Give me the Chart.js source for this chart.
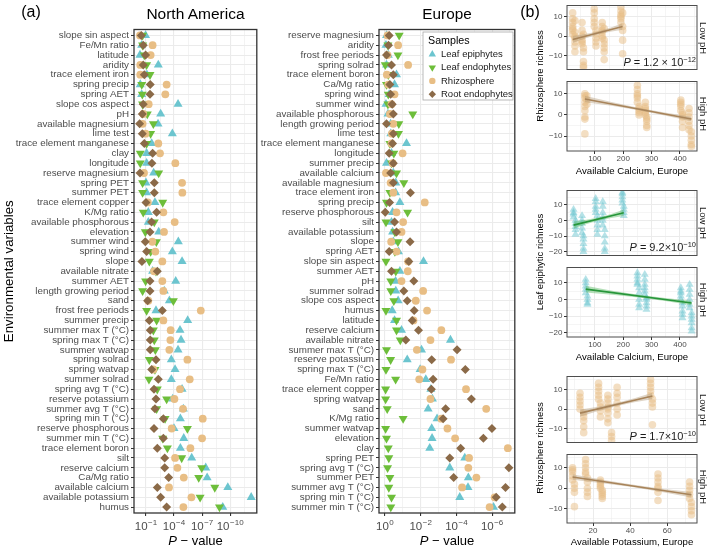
<!DOCTYPE html>
<html><head><meta charset="utf-8">
<script src="https://cdn.jsdelivr.net/npm/chart.js@4.4.1/dist/chart.umd.min.js"></script>
<style>
html,body{margin:0;padding:0;background:#fff;}
#root{position:relative;width:709px;height:548px;overflow:hidden;font-family:"Liberation Sans",Arial,Helvetica,sans-serif;background:#fff;}
canvas{position:absolute;}
.t{position:absolute;white-space:nowrap;line-height:1;color:#000;transform:translate(-50%,-50%);}
.rl{transform:translate(-50%,-50%) rotate(-90deg);}
.rr{transform:translate(-50%,-50%) rotate(90deg);}
.ra{transform:translate(-100%,-50%);}
.sup{font-size:0.68em;position:relative;top:-0.55em;}
</style></head><body><div id="root"></div>
<script>
// ---------- DATA (a): -log10(P) per sample type ----------
const naLabels = ['slope sin aspect','Fe/Mn ratio','latitude','aridity','trace element iron','spring precip','spring AET','slope cos aspect','pH','available magnesium','lime test','trace element manganese','clay','longitude','reserve magnesium','spring PET','summer PET','trace element copper','K/Mg ratio','available phosphorous','elevation','summer wind','spring wind','slope','available nitrate','summer AET','length growing period','sand','frost free periods','summer precip','summer max T (°C)','spring max T (°C)','summer watvap','spring solrad','spring watvap','summer solrad','spring avg T (°C)','reserve potassium','summer avg T (°C)','spring min T (°C)','reserve phosphorous','summer min T (°C)','trace element boron','silt','reserve calcium','Ca/Mg ratio','available calcium','available potassium','humus'];
const naLeafEpiphytes = [0.96,0.54,0.36,2.32,1.1,0.39,0.54,4.43,2.57,2.29,3.82,1.61,1.07,1.07,1.82,1.0,1.07,1.96,1.25,1.25,2.36,4.46,3.82,4.86,1.71,4.18,2.96,3.5,2.07,5.46,4.64,4.75,4.43,3.71,4.11,3.71,4.86,3.86,5.0,4.68,4.0,5.04,4.68,5.89,7.39,7.54,9.75,12.25,9.21];
const naLeafEndophytes = [0.64,0.64,0.82,1.07,1.43,0.55,0.61,0.64,1.14,1.79,1.5,1.07,0.39,0.39,2.36,0.64,0.64,2.79,0.71,1.89,0.93,2.11,1.5,1.36,2.07,0.96,0.64,3.93,1.07,2.14,1.79,1.89,2.0,1.36,1.96,1.32,2.21,3.21,2.14,3.04,5.43,2.79,3.29,4.82,6.96,6.64,8.36,6.79,8.86];
const naRhizosphere = [0.36,1.71,1.5,0.39,0.39,3.21,3.07,1.29,0.71,0.64,0.96,2.32,2.5,4.14,0.79,4.86,4.89,1.2,2.86,4.07,2.93,1.68,2.0,2.75,1.86,2.75,2.86,1.25,6.86,2.86,3.64,3.61,3.5,5.43,1.79,5.68,4.64,4.04,4.96,7.07,3.75,7.0,5.75,4.11,4.36,5.04,3.46,5.86,5.0];
const naRootEndophytes = [0.5,0.71,0.96,0.71,0.82,1.46,1.43,0.71,0.61,0.32,0.61,0.82,1.71,1.64,0.36,1.89,1.89,1.0,2.14,1.6,1.43,0.93,1.07,0.57,2.21,1.43,1.43,1.18,2.75,1.36,1.46,1.46,1.46,2.07,1.61,2.32,1.86,2.07,1.96,2.86,1.86,2.86,2.21,3.0,3.0,3.43,2.21,2.57,3.21];

const euLabels = ['reserve magnesium','aridity','frost free periods','spring solrad','trace element boron','Ca/Mg ratio','spring wind','summer wind','available phosphorous','length growing period','lime test','trace element manganese','longitude','summer precip','available calcium','available magnesium','trace element iron','spring precip','reserve phosphorous','silt','available potassium','slope','spring AET','slope sin aspect','summer AET','pH','summer solrad','slope cos aspect','humus','latitude','reserve calcium','available nitrate','summer max T (°C)','reserve potassium','spring max T (°C)','Fe/Mn ratio','trace element copper','spring watvap','sand','K/Mg ratio','summer watvap','elevation','clay','spring PET','spring avg T (°C)','summer PET','summer avg T (°C)','spring min T (°C)','summer min T (°C)'];
const euLeafEpiphytes = [0.09,0.06,0.19,0.09,0.65,0.54,0.24,0.06,0.17,0.32,0.33,1.21,0.37,0.09,0.47,0.61,0.6,0.84,0.43,0.37,0.43,0.47,0.76,2.16,0.84,0.6,0.61,0.74,0.41,0.54,0.93,3.67,2.05,1.25,1.97,2.29,2.57,2.66,2.42,2.92,2.62,2.64,2.51,4.47,3.63,4.67,4.65,4.19,6.08];
const euLeafEndophytes = [0.8,0.17,0.73,0.02,0.19,0.09,0.19,0.17,1.56,0.78,0.76,0.28,0.5,0.37,0.65,1.06,0.28,0.09,1.27,0.06,0.56,0.73,0.56,0.06,0.61,0.33,0.33,0.5,0.06,0.65,0.65,0.86,0.09,0.32,0.06,0.6,0.04,0.04,0.13,1.02,0.04,0.09,0.19,0.22,0.15,0.28,0.22,0.37,0.33];
const euRhizosphere = [0.15,0.74,0.15,1.3,0.11,0.19,0.54,0.37,0.28,0.47,0.39,0.37,0.99,0.43,0.06,0.32,0.47,2.23,0.65,1.02,0.93,0.35,0.65,1.3,1.28,0.93,2.14,1.73,2.36,1.6,3.16,2.55,1.79,3.7,2.1,1.92,4.54,2.55,5.67,3.16,3.5,3.93,6.88,4.71,4.67,5.12,4.32,6.14,5.86];
const euRootEndophytes = [0.24,0.2,0.09,0.37,0.47,0.28,0.32,0.41,0.47,0.09,0.47,0.43,0.24,0.47,0.32,0.47,1.43,0.26,0.02,0.54,0.65,1.41,0.24,1.34,0.37,1.62,1.06,1.25,1.64,1.53,1.88,1.17,4.04,2.62,4.5,2.7,2.6,4.84,3.4,3.26,5.99,5.51,4.24,3.63,6.94,3.85,6.75,6.23,6.57];

const naExpTicks = [1,4,7,10];
const euExpTicks = [0,2,4,6];

// ---------- DATA (b): richness columns (x value, list of y values) ----------
const caLowRhizoX = [22,30,55,60,98,104,126,133,192,198];
const caLowRhizoY = [[12,9,7,5,4,3,1],[8,2,0,-1,-3,-5,-8],[7,3,0,-2,-3,-4],[-6,-8,-13,-15,-16,1],[14,12,9,7,5],[3,1,-1,-3,-5],[7,5,3,2,0,-1],[-2,-4,-6,-8,-12,4],[15,13,11,10,9,7],[5,3,-2,-9,12]];
const caHighRhizoX = [65,72,250,256,278,283,403,409,432,440];
const caHighRhizoY = [[10,9,8,6,4,2,-1,-2,-9],[9,7,5],[14,12,10,9,8,6],[4,3,2,1,0],[6,4,3,2,1,0],[-1,-2,-3,-5,-6],[7,6,5,4,2],[1,0,-1,-3,-6],[3,1,-1,-3,-5,-7],[-8,-10,-12,-14,-15]];
const caLowEpiX = [25,32,55,60,103,109,128,135,197,202];
const caLowEpiY = [[7,5,4,2],[0,-2,-4,-6,-9],[3,0,-2,-5,-8],[-10,-12,-15,-18,-20],[14,12,9,7,5],[3,0,-3,-6,-9],[12,9,5,2,0,-3],[-6,-10,-14,-18,-20],[18,17,15,13,11],[9,7,5,3]];
const caHighEpiX = [68,74,250,256,276,282,403,409,434,441];
const caHighEpiY = [[12,10,8,6,4],[2,0,-2,-3],[16,14,12,10,9],[7,4,0,-3,-5],[15,12,9,7,5,3],[1,0,-2,-4,-6],[7,5,4,2,0],[-2,-4,-7,-9,-11],[9,6,3,0,-3,-5],[-8,-10,-12,-14,-17,-19]];
const kLowRhizoX = [13,15,23,24,28,30,33,51,52];
const kLowRhizoY = [[8,6,4,2,0],[-2,-4,-6,-9,-12],[13,11,9,7,5],[3,1,-1,-4],[7,5,3,1,0,-2,-5,-7],[-12,-14,-16],[11,8,6,3,0,-3],[15,13,11,9,7],[5,3,1,-8]];
const kHighRhizoX = [9,10,16,17,24,25,55,72,73];
const kHighRhizoY = [[10,9,8,6,4],[2,0,-2,-9],[14,12,10,8,7],[5,3,0,-2,-4],[4,3,2,1,0],[-1,-2,-3,-4,-5],[7,5,3,1,0,-2,-6],[3,1,-1,-3,-5],[-7,-9,-11,-13]];

// fitted lines and confidence ribbons
const caLowRhizoFitX = [22,198], caLowRhizoFitY = [-1.7,5.0];
const caLowRhizoRibX = [22,66,110,154,198], caLowRhizoRibLo = [-3.5,-1.1,0.85,2.3,3.3], caLowRhizoRibHi = [0.1,1.1,2.45,4.3,6.7];
const caHighRhizoFitX = [65,440], caHighRhizoFitY = [7.5,-1.95];
const caHighRhizoRibX = [65,159,253,346,440], caHighRhizoRibLo = [6.0,4.3,2.2,-0.3,-3.05], caHighRhizoRibHi = [9.0,6.1,3.4,1.1,-0.85];
const caLowEpiFitX = [25,202], caLowEpiFitY = [-3.0,4.9];
const caLowEpiRibX = [25,69,113,158,202], caLowEpiRibLo = [-5.3,-2.4,-0.1,1.6,2.8], caLowEpiRibHi = [-0.7,0.4,1.9,4.2,7.0];
const caHighEpiFitX = [68,441], caHighEpiFitY = [6.2,-2.1];
const caHighEpiRibX = [68,161,254,348,441], caHighEpiRibLo = [4.2,2.9,1.2,-0.9,-3.5], caHighEpiRibHi = [8.2,5.3,2.8,0.9,-0.7];
const kLowRhizoFitX = [13,52], kLowRhizoFitY = [-2.1,6.6];
const kLowRhizoRibX = [13,22.75,32.5,42.25,52], kLowRhizoRibLo = [-3.9,-1.0,1.45,3.4,4.9], kLowRhizoRibHi = [-0.3,1.2,3.05,5.4,8.3];
const kHighRhizoFitX = [9,73], kHighRhizoFitY = [5.5,-3.2];
const kHighRhizoRibX = [9,25,41,57,73], kHighRhizoRibLo = [4.1,2.5,0.6,-1.8,-4.5], kHighRhizoRibHi = [6.9,4.1,1.8,-0.2,-1.9];

// ---------- SETUP ----------
const FONT = '"Liberation Sans", Arial, Helvetica, sans-serif';
Chart.defaults.font.family = FONT;
Chart.defaults.animation = false;
Chart.defaults.responsive = false;
Chart.defaults.maintainAspectRatio = false;
Chart.defaults.devicePixelRatio = 1;
Chart.defaults.plugins.legend.display = false;
Chart.defaults.plugins.tooltip.enabled = false;
Chart.defaults.events = [];

const root = document.getElementById('root');
function makeCanvas(l,t,w,h){const c=document.createElement('canvas');c.width=w;c.height=h;c.style.left=l+'px';c.style.top=t+'px';c.style.width=w+'px';c.style.height=h+'px';root.appendChild(c);return c;}
function addText(html,x,y,size,cls,color){const d=document.createElement('div');d.className='t'+(cls?' '+cls:'');d.innerHTML=html;d.style.left=x+'px';d.style.top=y+'px';d.style.fontSize=size+'px';if(color)d.style.color=color;root.appendChild(d);return d;}

const SERIES = [
  {label:'Leaf epiphytes', style:'triangle', rot:0, r:5.2, color:'#6CC5CF', order:3},
  {label:'Leaf endophytes', style:'triangle', rot:180, r:5.2, color:'#6DBE3A', order:2},
  {label:'Rhizosphere', style:'circle', rot:0, r:3.9, color:'#E8BE85', order:1},
  {label:'Root endophytes', style:'rectRot', rot:0, r:4.5, color:'#8B6A48', order:0}
];

const frame = (color,w) => ({id:'frame', afterDraw(ch){const a=ch.chartArea,c=ch.ctx;c.save();c.strokeStyle=color;c.lineWidth=w;c.strokeRect(a.left,a.top,a.right-a.left,a.bottom-a.top);c.restore();}});

const expTicks = (majors,baseY) => ({id:'expTicks', afterDraw(ch){
  const c=ch.ctx,s=ch.scales.x;c.save();c.fillStyle='#4D4D4D';c.textBaseline='alphabetic';c.textAlign='left';
  majors.forEach(m=>{const px=s.getPixelForValue(m);const e=m===0?'0':'\u2212'+m;
    c.font='11.5px '+FONT;const wb=c.measureText('10').width;c.font='8px '+FONT;const we=c.measureText(e).width;
    const x0=px-(wb+we+0.5)/2;c.font='11.5px '+FONT;c.fillText('10',x0,baseY);c.font='8px '+FONT;c.fillText(e,x0+wb+0.5,baseY-5.5);});
  c.restore();}});

const legendBox = {id:'legendBox', afterDraw(ch){
  const c=ch.ctx;c.save();const L=165,T=32,W=90,H=68;
  c.fillStyle='#fff';c.fillRect(L,T,W,H);c.strokeStyle='#A8A8A8';c.lineWidth=0.8;c.strokeRect(L,T,W,H);
  c.fillStyle='#000';c.font='10.7px '+FONT;c.textBaseline='middle';c.textAlign='left';c.fillText('Samples',L+5,T+9);
  SERIES.forEach((s,k)=>{const y=T+22.3+k*13.3;c.fillStyle=s.color;
    Chart.helpers.drawPoint(c,{pointStyle:s.style,rotation:s.rot,radius:s.r*0.82,borderWidth:0},L+9.3,y);
    c.fillStyle='#1A1A1A';c.font='9.5px '+FONT;c.fillText(s.label,L+18,y);});
  c.restore();}};

function dotPlot(canvas, labels, values, xr, majors, minors, yW, yTitle, extra){
  const datasets = SERIES.map((s,k)=>({label:s.label, data:values[k].map((v,i)=>({x:v,y:i})),
    pointStyle:s.style, pointRotation:s.rot, pointRadius:s.r, pointBackgroundColor:s.color,
    pointBorderWidth:0, showLine:false, order:s.order, clip:false}));
  const allX = majors.concat(minors).sort((a,b)=>a-b);
  return new Chart(canvas,{type:'scatter',data:{datasets},options:{
    layout:{padding:{top:29.5,right:5,left:0,bottom:0}},
    scales:{
      x:{type:'linear',min:xr[0],max:xr[1],
        afterBuildTicks:a=>{a.ticks=allX.map(v=>({value:v}));},
        ticks:{display:false},
        grid:{color:'#EBEBEB',lineWidth:c=>(c.tick&&majors.includes(c.tick.value))?1.1:0.6,
          tickColor:c=>(c.tick&&majors.includes(c.tick.value))?'#333':'rgba(0,0,0,0)',tickLength:3,drawTicks:true},
        border:{display:false},
        afterFit:a=>{a.height=35;}},
      y:{type:'linear',min:-0.6,max:labels.length-0.4,reverse:true,
        afterBuildTicks:a=>{a.ticks=labels.map((_,i)=>({value:i}));},
        ticks:{autoSkip:false,callback:v=>labels[v],font:{size:9.8,lineHeight:1},color:'#4D4D4D',padding:2},
        grid:{color:'#EBEBEB',lineWidth:1,tickColor:'#333',tickLength:3},
        border:{display:false},
        title:{display:!!yTitle,text:yTitle||'',color:'#000',font:{size:13.3},padding:{top:1,bottom:0}},
        afterFit:a=>{a.width=yW;}}
    }},plugins:[frame('#333',1.3),expTicks(majors,530)].concat(extra||[])});
}

// (a) North America
dotPlot(makeCanvas(0,0,262,548), naLabels, [naLeafEpiphytes,naLeafEndophytes,naRhizosphere,naRootEndophytes],
  [-0.28,12.85], naExpTicks, [-0.5,2.5,5.5,8.5,11.5], 134, 'Environmental variables');
// (a) Europe
dotPlot(makeCanvas(258,0,262,548), euLabels, [euLeafEpiphytes,euLeafEndophytes,euRhizosphere,euRootEndophytes],
  [-0.33,7.27], euExpTicks, [1,3,5,7], 121, '', [legendBox]);

// (b) facets
function cols(xs,ys){const out=[];xs.forEach((x,i)=>ys[i].forEach(y=>out.push({x,y})));return out;}
function pairs(xs,ys){return xs.map((x,i)=>({x,y:ys[i]}));}
function facet(p){
  const cv = makeCanvas(545,p.top,164,p.h);
  const xAll = p.xMaj.concat(p.xMin).sort((a,b)=>a-b), yAll = p.yMaj.concat(p.yMin).sort((a,b)=>a-b);
  const fmt = v => v<0 ? '\u2212'+(-v) : String(v);
  new Chart(cv,{type:'scatter',data:{datasets:[
    {data:p.pts, pointStyle:p.style, pointRadius:p.r, pointBackgroundColor:p.fill, pointBorderWidth:0, order:3},
    {type:'line', data:p.ribHi, borderWidth:0, borderColor:'rgba(0,0,0,0)', pointRadius:0, fill:false, order:2},
    {type:'line', data:p.ribLo, borderWidth:0, borderColor:'rgba(0,0,0,0)', pointRadius:0, fill:'-1', backgroundColor:p.ribbon, order:2},
    {type:'line', data:p.fit, borderWidth:1.6, borderColor:p.line, pointRadius:0, fill:false, order:1}
  ]},options:{
    layout:{padding:{top:p.padTop,right:12,left:0,bottom:0}},
    scales:{
      x:{type:'linear',min:p.xr[0],max:p.xr[1],
        afterBuildTicks:a=>{a.ticks=xAll.map(v=>({value:v}));},
        ticks:{display:p.showX,autoSkip:false,maxRotation:0,padding:1,color:'#4D4D4D',font:{size:8,lineHeight:1},callback:v=>p.xMaj.includes(v)?String(v):''},
        grid:{color:'#EBEBEB',lineWidth:c=>(c.tick&&p.xMaj.includes(c.tick.value))?1:0.5,
          tickColor:c=>(p.showX&&c.tick&&p.xMaj.includes(c.tick.value))?'#333':'rgba(0,0,0,0)',tickLength:p.showX?3:0,drawTicks:p.showX},
        border:{display:false},
        title:{display:p.showX,text:p.xTitle||'',color:'#000',font:{size:9.6,lineHeight:1.1},padding:{top:0,bottom:0}},
        afterFit:a=>{a.height=p.xH;}},
      y:{type:'linear',min:p.yr[0],max:p.yr[1],
        afterBuildTicks:a=>{a.ticks=yAll.map(v=>({value:v}));},
        ticks:{autoSkip:false,padding:1.5,color:'#4D4D4D',font:{size:8,lineHeight:1},callback:v=>p.yMaj.includes(v)?fmt(v):''},
        grid:{color:'#EBEBEB',lineWidth:c=>(c.tick&&p.yMaj.includes(c.tick.value))?1:0.5,
          tickColor:c=>(c.tick&&p.yMaj.includes(c.tick.value))?'#333':'rgba(0,0,0,0)',tickLength:3},
        border:{display:false},
        afterFit:a=>{a.width=22;}}
    }},plugins:[frame('#4D4D4D',1)]});
}
const RH = {style:'circle', r:3.8, fill:'rgba(232,190,133,0.5)', line:'#A8845A', ribbon:'rgba(176,150,115,0.4)'};
const EP = {style:'triangle', r:4.6, fill:'rgba(108,197,207,0.5)', line:'#27963A', ribbon:'rgba(80,180,90,0.42)'};
const caX = {xr:[2,460], xMaj:[100,200,300,400], xMin:[50,150,250,350,450]};
const kX = {xr:[6,76], xMaj:[20,40,60], xMin:[10,30,50,70]};
const y1 = {yr:[-17.1,15.8], yMaj:[-10,0,10], yMin:[-15,-5,5,15]};
const y2 = {yr:[-22.5,19.2], yMaj:[-20,-10,0,10], yMin:[-15,-5,5,15]};
const y3 = {yr:[-17,16.5], yMaj:[-10,0,10], yMin:[-15,-5,5,15]};

facet(Object.assign({top:0,h:75,padTop:2,xH:2,showX:false,pts:cols(caLowRhizoX,caLowRhizoY),fit:pairs(caLowRhizoFitX,caLowRhizoFitY),ribLo:pairs(caLowRhizoRibX,caLowRhizoRibLo),ribHi:pairs(caLowRhizoRibX,caLowRhizoRibHi)},RH,caX,y1));
facet(Object.assign({top:76,h:101,padTop:2,xH:26,showX:true,xTitle:'Available Calcium, Europe',pts:cols(caHighRhizoX,caHighRhizoY),fit:pairs(caHighRhizoFitX,caHighRhizoFitY),ribLo:pairs(caHighRhizoRibX,caHighRhizoRibLo),ribHi:pairs(caHighRhizoRibX,caHighRhizoRibHi)},RH,caX,y1));
facet(Object.assign({top:185,h:76,padTop:2,xH:2,showX:false,pts:cols(caLowEpiX,caLowEpiY),fit:pairs(caLowEpiFitX,caLowEpiFitY),ribLo:pairs(caLowEpiRibX,caLowEpiRibLo),ribHi:pairs(caLowEpiRibX,caLowEpiRibHi)},EP,caX,y2));
facet(Object.assign({top:262,h:101,padTop:2,xH:26,showX:true,xTitle:'Available Calcium, Europe',pts:cols(caHighEpiX,caHighEpiY),fit:pairs(caHighEpiFitX,caHighEpiFitY),ribLo:pairs(caHighEpiRibX,caHighEpiRibLo),ribHi:pairs(caHighEpiRibX,caHighEpiRibHi)},EP,caX,y2));
facet(Object.assign({top:371,h:77,padTop:2,xH:2,showX:false,pts:cols(kLowRhizoX,kLowRhizoY),fit:pairs(kLowRhizoFitX,kLowRhizoFitY),ribLo:pairs(kLowRhizoRibX,kLowRhizoRibLo),ribHi:pairs(kLowRhizoRibX,kLowRhizoRibHi)},RH,kX,y3));
facet(Object.assign({top:449,h:99,padTop:2,xH:25,showX:true,xTitle:'Available Potassium, Europe',pts:cols(kHighRhizoX,kHighRhizoY),fit:pairs(kHighRhizoFitX,kHighRhizoFitY),ribLo:pairs(kHighRhizoRibX,kHighRhizoRibLo),ribHi:pairs(kHighRhizoRibX,kHighRhizoRibHi)},RH,kX,y3));

// ---------- free text ----------
addText('(a)',31,12,16);
addText('North America',195.5,14,15.5);
addText('Europe',447,14,15.3);
addText('<i>P</i> \u2212 value',195.5,540,13);
addText('<i>P</i> \u2212 value',447,540,13);
addText('(b)',530,12,16);
addText('Rhizosphere richness',540,76,9.5,'rl');
addText('Leaf epiphytic richness',540,262,9.5,'rl');
addText('Rhizosphere richness',540,448,9.5,'rl');
addText('Low pH',703,37.5,9.5,'rr','#1A1A1A');
addText('High pH',703,114,9.5,'rr','#1A1A1A');
addText('Low pH',703,223,9.5,'rr','#1A1A1A');
addText('High pH',703,300,9.5,'rr','#1A1A1A');
addText('Low pH',703,409.5,9.5,'rr','#1A1A1A');
addText('High pH',703,487,9.5,'rr','#1A1A1A');
addText('<i>P</i> = 1.2 \u00d7 10<span class="sup">\u221212</span>',696,61.7,11,'ra','#1A1A1A');
addText('<i>P</i> = 9.2\u00d710<span class="sup">\u221210</span>',696,246.7,11,'ra','#1A1A1A');
addText('<i>P</i> = 1.7\u00d710<span class="sup">\u221210</span>',696,435.7,11,'ra','#1A1A1A');
</script></body></html>
